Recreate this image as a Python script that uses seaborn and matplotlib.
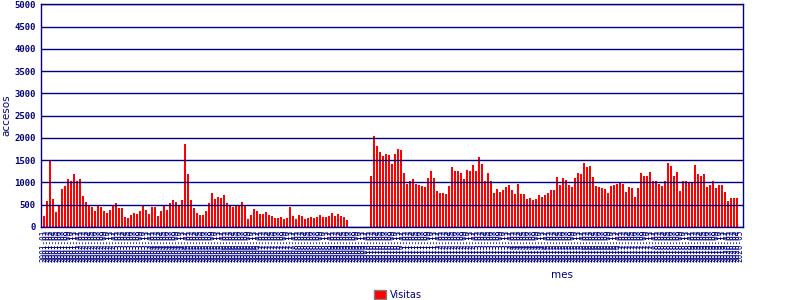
import matplotlib
matplotlib.use("Agg")
import matplotlib.pyplot as plt
import seaborn as sns
import pandas as pd
from matplotlib.patches import Patch

# ---- data ----
visitas = [
    250, 585, 1505, 630, 335, 490, 855, 930, 1080, 1035,
    1200, 1035, 1080, 700, 560, 490, 450, 360, 490, 450,
    360, 315, 380, 490, 540, 425, 425, 225, 200, 270,
    315, 290, 360, 490, 380, 290, 450, 450, 245, 360,
    490, 380, 540, 605, 560, 490, 605, 1865, 1190, 605,
    425, 315, 270, 270, 360, 540, 765, 630, 675, 650,
    720, 540, 490, 450, 490, 490, 560, 490, 180, 270,
    405, 360, 290, 290, 335, 270, 245, 200, 200, 225,
    180, 200, 450, 245, 180, 270, 245, 180, 200, 225,
    200, 225, 270, 225, 225, 245, 315, 245, 290, 245,
    225, 155, 0, 0, 0, 0, 0, 0, 0, 1140,
    2035, 1815, 1680, 1590, 1635, 1610, 1410, 1635, 1745, 1725,
    1210, 965, 1030, 1075, 965, 940, 920, 895, 1095, 1255,
    1095, 805, 760, 760, 740, 920, 1345, 1255, 1255, 1210,
    1075, 1275, 1255, 1390, 1255, 1565, 1410, 1030, 1210, 1030,
    760, 850, 785, 830, 895, 940, 830, 740, 965, 740,
    740, 625, 650, 605, 625, 715, 670, 715, 760, 830,
    830, 1120, 940, 1095, 1050, 940, 895, 1095, 1210, 1185,
    1435, 1345, 1365, 1120, 920, 895, 875, 850, 760, 920,
    940, 965, 985, 965, 785, 895, 875, 670, 875, 1210,
    1140, 1140, 1230, 1030, 1030, 965, 920, 1030, 1435, 1365,
    1140, 1230, 805, 1030, 1030, 1005, 1005, 1390, 1185, 1140,
    1185, 895, 940, 1030, 875, 940, 940, 785, 580, 650,
    650, 650, 0,
]
years = list(range(2001, 2021))
months = ["01", "02", "03", "04", "05", "06", "07", "08", "09", "10", "11", "12"]
meses = [f"{y}-{m}" for y in years for m in months][:len(visitas)]
y_ticks = [0, 500, 1000, 1500, 2000, 2500, 3000, 3500, 4000, 4500, 5000]

df = pd.DataFrame({"mes": meses, "accesos": visitas})

NAVY = "#000080"
RED = "#ff0000"

sns.set_style("white")
plt.rcParams["font.family"] = ["DejaVu Sans"]

fig = plt.figure(figsize=(8, 3), dpi=100)
ax = fig.add_axes([41.3 / 800, 73 / 300, 702 / 800, 222.7 / 300])

sns.barplot(data=df, x="mes", y="accesos", color=RED, saturation=1,
            width=2 / 3, ax=ax, linewidth=0)

ax.set_xlim(-0.8, len(visitas) - 1 + 1.2)
ax.set_ylim(0, 5000)
ax.set_yticks(y_ticks)
ax.set_yticklabels([str(v) for v in y_ticks], fontfamily="DejaVu Sans Mono",
                   fontweight="bold", fontsize=6.5, color=NAVY)
ax.tick_params(axis="y", length=0, pad=4)
ax.tick_params(axis="x", length=0, pad=2)
ax.set_xticks(range(len(meses)))
ax.set_xticklabels(meses, rotation=90, fontfamily="DejaVu Sans Mono",
                   fontsize=5.5, color=NAVY)

ax.yaxis.grid(True, color=NAVY, linewidth=1.0)
ax.xaxis.grid(False)
ax.set_axisbelow(False)
for s in ax.spines.values():
    s.set_color(NAVY)
    s.set_linewidth(1.0)
    s.set_visible(True)

ax.set_ylabel("accesos", fontsize=7.5, color=NAVY)
ax.yaxis.set_label_coords(-0.043, 0.5)
ax.set_xlabel("mes", fontsize=7.5, color=NAVY)
ax.xaxis.set_label_coords(0.742, -0.195)

fig.legend(handles=[Patch(facecolor=RED, edgecolor="#808080", linewidth=1.0, label="Visitas")],
           loc="center", bbox_to_anchor=(398 / 800, 1 - 295 / 300), frameon=False,
           fontsize=7, handlelength=1.3, handleheight=1.1, handletextpad=0.4,
           labelcolor=NAVY, borderpad=0)

fig.savefig("out.png", dpi=100)
